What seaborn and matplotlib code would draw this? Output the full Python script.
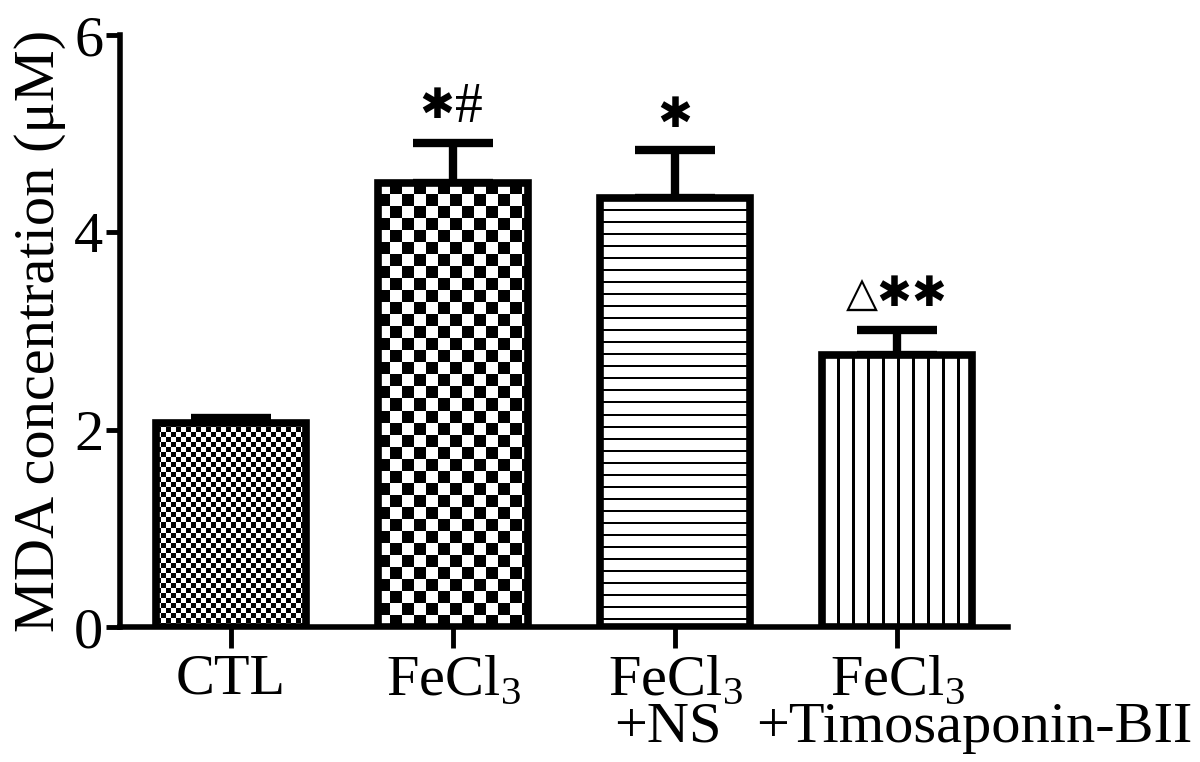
import numpy as np
import pandas as pd
import matplotlib
matplotlib.use("Agg")
import matplotlib.pyplot as plt
import seaborn as sns

# data
groups = ["CTL", "FeCl3", "FeCl3+NS", "FeCl3+Timosaponin-BII"]
tick_labels = ["CTL", "FeCl$_3$", "FeCl$_3$", "FeCl$_3$"]
second_lines = ["", "", "+NS", "+Timosaponin-BII"]
second_x = [0, 0, 1.97, 3.35]
mda = [2.07, 4.50, 4.35, 2.76]
sem = [0.05, 0.41, 0.49, 0.25]
marks = ["", "\u2731", "\u2731", "\u25b3\u2731\u2731"]
hashes = ["", "#", "", ""]
mark_y = [0, 5.26, 5.17, 3.36]
# texture per bar: (kind, cell / period px, line px)
textures = [("checker", 5, 0), ("checker", 12, 0), ("hlines", 12, 2), ("vlines", 15, 3)]

df = pd.DataFrame({"group": groups, "mda": mda})

sns.set_style("ticks", {"axes.edgecolor": "black", "text.color": "black",
                        "axes.labelcolor": "black", "xtick.color": "black",
                        "ytick.color": "black"})
plt.rcParams["font.family"] = ["Liberation Serif", "DejaVu Sans"]
plt.rcParams["mathtext.fontset"] = "custom"
plt.rcParams["mathtext.rm"] = "Liberation Serif"

fig = plt.figure(figsize=(12, 7.62), dpi=100)
ax = fig.add_axes([0.1, 0.177, 0.74, 0.777])

sns.barplot(data=df, x="group", y="mda", color="white", width=0.68,
            edgecolor="black", linewidth=5.5, errorbar=None, ax=ax)
ax.set_xlim(-0.5, 3.5)
ax.set_ylim(0, 6)

ax.errorbar(range(len(groups)), mda, yerr=[np.zeros(len(sem)), sem], fmt="none",
            ecolor="black", elinewidth=6, capsize=29, capthick=6, zorder=1)

# fill patterns, clipped to each bar
for patch, (kind, per, lw) in zip(ax.patches, textures):
    bb = patch.get_window_extent()
    w, h = int(round(bb.width)), int(round(bb.height))
    yy, xx = np.mgrid[0:h, 0:w]
    if kind == "checker":
        img = ((xx // per + yy // per) % 2).astype(float)
    elif kind == "hlines":
        img = ((yy % per) < lw).astype(float)
    else:
        img = ((xx % per) < lw).astype(float)
    x0, y0 = patch.get_x(), patch.get_y()
    im = ax.imshow(img, cmap="gray_r", vmin=0, vmax=1, interpolation="nearest",
                   extent=(x0, x0 + patch.get_width(), y0, y0 + patch.get_height()),
                   aspect="auto", zorder=2)
    im.set_clip_path(patch)
    patch.set_facecolor("none")
    patch.set_zorder(3)
ax.set_xlim(-0.5, 3.5)
ax.set_ylim(0, 6)

# significance marks
for i, (m, hs, y) in enumerate(zip(marks, hashes, mark_y)):
    if not m:
        continue
    if hs:
        ax.annotate(m, (i, y), xytext=(-11.5, 0), textcoords="offset points",
                    ha="center", va="center", fontsize=30)
        ax.annotate(hs, (i, y), xytext=(11.5, 0), textcoords="offset points",
                    ha="center", va="center", fontsize=40)
    else:
        ax.text(i, y, m, ha="center", va="center", fontsize=30)

ax.set_yticks([0, 2, 4, 6])
ax.set_xticks(range(len(groups)))
ax.set_xticklabels(tick_labels)
for x, t in zip(second_x, second_lines):
    if t:
        ax.text(x, -0.17, t, transform=ax.get_xaxis_transform(), ha="center",
                va="center", fontsize=42, clip_on=False)
ax.set_xlabel("")
ax.set_ylabel("MDA concentration (\u03bcM)", fontsize=42, labelpad=6)
ax.tick_params(axis="both", labelsize=42, width=3.5, length=10, pad=2)
ax.tick_params(axis="x", length=15, pad=4)
for s in ["left", "bottom"]:
    ax.spines[s].set_linewidth(4)
sns.despine(ax=ax)

fig.savefig("out.png", dpi=100)
